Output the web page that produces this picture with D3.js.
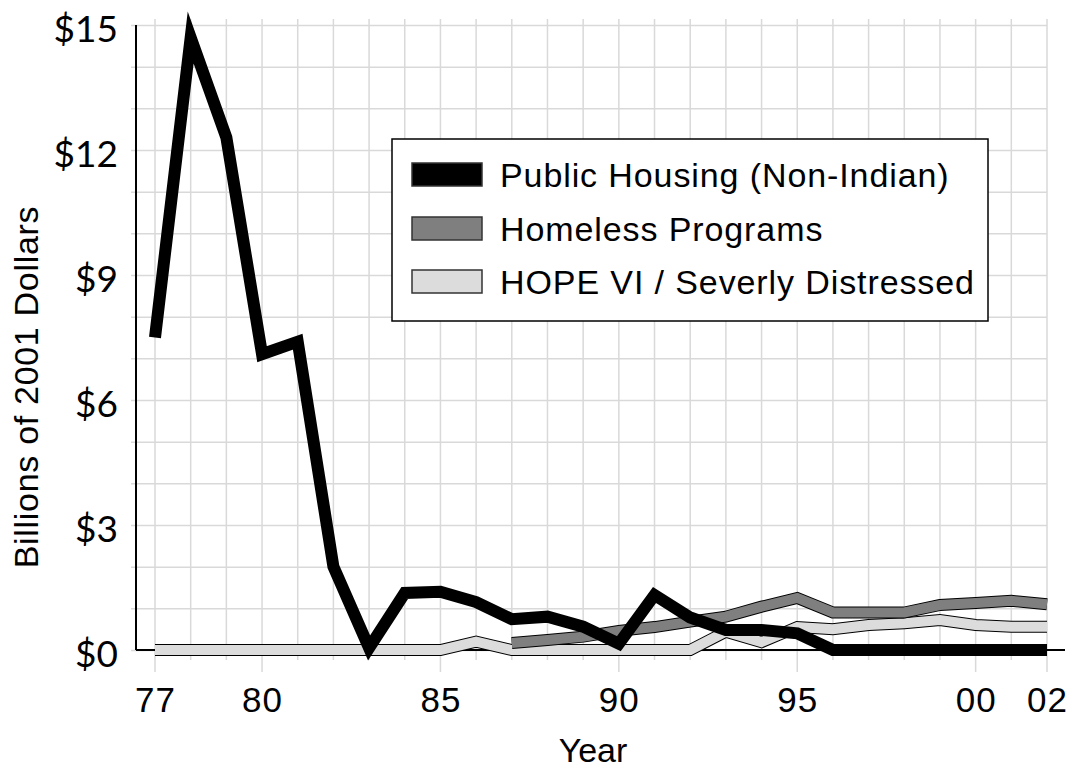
<!DOCTYPE html>
<html>
<head>
<meta charset="utf-8">
<script src="https://cdn.jsdelivr.net/npm/d3@7"></script>
<style>
  body { margin: 0; background: #fff; }
  svg { display: block; }
</style>
</head>
<body>
<div id="chart"></div>
<script>
// --- data ---
const years = [1977, 1978, 1979, 1980, 1981, 1982, 1983, 1984, 1985, 1986, 1987, 1988, 1989,
               1990, 1991, 1992, 1993, 1994, 1995, 1996, 1997, 1998, 1999, 2000, 2001, 2002];
const labelYears = [1977, 1980, 1985, 1990, 1995, 2000, 2002];
const yTicks = [0, 3, 6, 9, 12, 15];

const publicHousing = [7.5, 14.7, 12.3, 7.1, 7.4, 2.0, 0.05, 1.37, 1.4, 1.15, 0.74, 0.8, 0.56,
                       0.15, 1.32, 0.78, 0.48, 0.48, 0.4, 0, 0, 0, 0, 0, 0, 0];
const homeless = [null, null, null, null, null, null, null, null, null, null, 0.17, 0.24, 0.32,
                  0.46, 0.55, 0.68, 0.8, 1.04, 1.25, 0.9, 0.9, 0.9, 1.08, 1.13, 1.18, 1.1];
const hopeVI = [0, 0, 0, 0, 0, 0, 0, 0, 0, 0.2, 0, 0, 0,
                0, 0, 0, 0.44, 0.19, 0.55, 0.5, 0.6, 0.64, 0.72, 0.6, 0.56, 0.56];

const seriesNames = ["Public Housing (Non-Indian)", "Homeless Programs", "HOPE VI / Severly Distressed"];
const seriesFill = ["#000000", "#7f7f7f", "#dcdcdc"];

const W = 1075, H = 770;
const svg = d3.select("#chart").append("svg")
    .attr("width", W)
    .attr("height", H);

const x = d3.scaleLinear().domain([1977, 2002]).range([155, 1047]);
const y = d3.scaleLinear().domain([0, 15]).range([650, 25]);

// grid: horizontal every dollar
svg.append("g")
    .attr("transform", "translate(131,0)")
    .call(d3.axisLeft(y).tickValues(d3.range(0, 16)).tickSize(-(1047 - 131)).tickFormat(""))
    .call(g => g.select(".domain").remove())
    .call(g => g.selectAll("line").attr("stroke", "#d9d9d9").attr("stroke-width", 1.5));

// grid: vertical every year, longer at labelled years
svg.append("g").selectAll("line")
    .data(years)
    .join("line")
    .attr("x1", d => x(d))
    .attr("x2", d => x(d))
    .attr("y1", y(15) - 6)
    .attr("y2", d => labelYears.includes(d) ? 672 : 660)
    .attr("stroke", "#d9d9d9")
    .attr("stroke-width", 1.5);

// axis lines
svg.append("line")
    .attr("x1", 136).attr("x2", 136)
    .attr("y1", y(15)).attr("y2", y(0))
    .attr("stroke", "#000").attr("stroke-width", 2);
svg.append("line")
    .attr("x1", 136).attr("x2", 1065)
    .attr("y1", y(0)).attr("y2", y(0))
    .attr("stroke", "#000").attr("stroke-width", 2);

// y tick labels
svg.append("g")
    .attr("transform", "translate(118,0)")
    .call(d3.axisLeft(y).tickValues(yTicks).tickSize(0).tickPadding(0).tickFormat(d => "$" + d))
    .call(g => g.select(".domain").remove())
    .call(g => g.selectAll("text")
        .attr("dy", "0.45em")
        .style("font-family", "Lato, 'Open Sans', sans-serif")
        .style("font-size", "37px")
        .style("fill", "#000"));

// x tick labels
svg.append("g")
    .attr("transform", `translate(0,${y(0)})`)
    .call(d3.axisBottom(x).tickValues(labelYears).tickSize(0).tickPadding(0)
        .tickFormat(d => String(d).slice(2)))
    .call(g => g.select(".domain").remove())
    .call(g => g.selectAll("text")
        .attr("y", 62)
        .attr("dy", 0)
        .style("font-family", "'Liberation Sans', Arial, sans-serif")
        .style("font-size", "35px")
        .style("letter-spacing", "1px")
        .style("fill", "#000"));

// axis titles
svg.append("text")
    .attr("x", 593).attr("y", 762)
    .attr("text-anchor", "middle")
    .style("font-family", "'Liberation Sans', Arial, sans-serif")
    .style("font-size", "34px")
    .text("Year");

svg.append("text")
    .attr("transform", "translate(38,387) rotate(-90)")
    .attr("text-anchor", "middle")
    .style("font-family", "'Liberation Sans', Arial, sans-serif")
    .style("font-size", "34px")
    .style("letter-spacing", "0.7px")
    .text("Billions of 2001 Dollars");

// lines
const line = d3.line()
    .defined(d => d.v !== null)
    .x(d => x(d.year))
    .y(d => y(d.v));

const toPoints = arr => years.map((yr, i) => ({ year: yr, v: arr[i] }));

function outlinedLine(arr, fill) {
    const pts = toPoints(arr);
    svg.append("path")
        .attr("d", line(pts))
        .attr("fill", "none")
        .attr("stroke", "#000")
        .attr("stroke-width", 12)
        .attr("stroke-linejoin", "miter")
        .attr("stroke-miterlimit", 10);
    svg.append("path")
        .attr("d", line(pts))
        .attr("fill", "none")
        .attr("stroke", fill)
        .attr("stroke-width", 10)
        .attr("stroke-linejoin", "miter")
        .attr("stroke-miterlimit", 10);
}

outlinedLine(hopeVI, seriesFill[2]);
outlinedLine(homeless, seriesFill[1]);

svg.append("path")
    .attr("d", line(toPoints(publicHousing)))
    .attr("fill", "none")
    .attr("stroke", seriesFill[0])
    .attr("stroke-width", 12)
    .attr("stroke-linejoin", "miter")
    .attr("stroke-miterlimit", 10);

// legend
const legend = svg.append("g").attr("transform", "translate(392,139)");
legend.append("rect")
    .attr("width", 596).attr("height", 182)
    .attr("fill", "#fff")
    .attr("stroke", "#000")
    .attr("stroke-width", 1.5);

const rowY = [24, 78, 131];
const item = legend.selectAll(".item")
    .data(seriesNames)
    .join("g")
    .attr("class", "item")
    .attr("transform", (d, i) => `translate(0,${rowY[i]})`);

item.append("rect")
    .attr("x", 20).attr("y", 0)
    .attr("width", 70).attr("height", 23)
    .attr("fill", (d, i) => seriesFill[i])
    .attr("stroke", "#333")
    .attr("stroke-width", 1.5);

item.append("text")
    .attr("x", 108).attr("y", 24)
    .style("font-family", "'Liberation Sans', Arial, sans-serif")
    .style("font-size", "34px")
    .style("letter-spacing", "0.9px")
    .text(d => d);
</script>
</body>
</html>
